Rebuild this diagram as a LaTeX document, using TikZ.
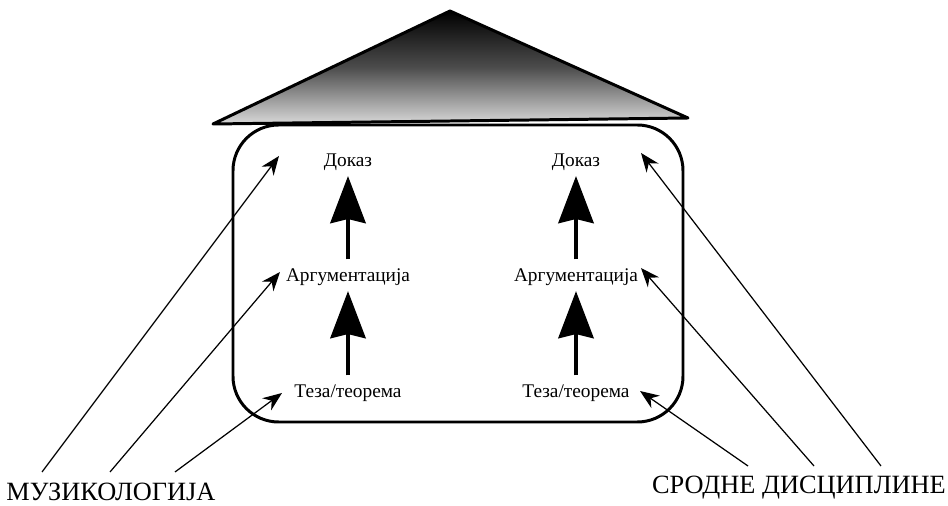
\documentclass[tikz,border=0pt]{standalone}
\usepackage{fontspec}
\setmainfont{Liberation Serif}
\usetikzlibrary{arrows.meta}

\begin{document}
\begin{tikzpicture}[x=0.02cm,y=-0.02cm,
  pojam/.style={inner sep=1pt,font=\fontsize{11}{13}\selectfont},
  oblast/.style={inner sep=1pt,font=\fontsize{15}{17}\selectfont},
  korak/.style={line width=2.8pt,shorten <=4pt,shorten >=2pt,-{Stealth[length=0.94cm,width=0.7cm,inset=0.08cm]}},
  uticaj/.style={line width=0.7pt,-{Stealth[length=0.38cm,width=0.3cm]}}]
  \useasboundingbox (0,0) rectangle (948,506);
  % krov
  \draw[line width=1.7pt,line join=round,top color=black,bottom color=black!15,middle color=black!70]
    (450,11) -- (688,118) -- (213,124) -- cycle;
  % kuca
  \draw[line width=1.7pt,rounded corners=26] (233,125) rectangle (683,422);
  % pojmovi, leva i desna kolona
  \node[pojam] (d1) at (348,162) {Доказ};
  \node[pojam] (a1) at (348,277) {Аргументација};
  \node[pojam] (t1) at (348,393) {Теза/теорема};
  \node[pojam] (d2) at (576,162) {Доказ};
  \node[pojam] (a2) at (576,277) {Аргументација};
  \node[pojam] (t2) at (576,393) {Теза/теорема};
  % debele strelice
  \draw[korak] (t1) -- (a1);
  \draw[korak] (a1) -- (d1);
  \draw[korak] (t2) -- (a2);
  \draw[korak] (a2) -- (d2);
  % oblasti dole
  \node[oblast] (muz) at (111,492) {МУЗИКОЛОГИЈА};
  \node[oblast] (srd) at (799,488) {СРОДНЕ ДИСЦИПЛИНЕ};
  \coordinate (m1) at (42,472); \coordinate (m2) at (110,472); \coordinate (m3) at (175,472);
  \coordinate (s1) at (748,466); \coordinate (s2) at (814,466); \coordinate (s3) at (881,466);
  % vrhovi tankih strelica
  \coordinate (d1v) at (279,156); \coordinate (a1v) at (280,272); \coordinate (t1v) at (282,393);
  \coordinate (d2v) at (641,153); \coordinate (a2v) at (641,268); \coordinate (t2v) at (640,391);
  % tanke strelice
  \draw[uticaj] (m1) -- (d1v);
  \draw[uticaj] (m2) -- (a1v);
  \draw[uticaj] (m3) -- (t1v);
  \draw[uticaj] (s1) -- (t2v);
  \draw[uticaj] (s2) -- (a2v);
  \draw[uticaj] (s3) -- (d2v);
\end{tikzpicture}
\end{document}
